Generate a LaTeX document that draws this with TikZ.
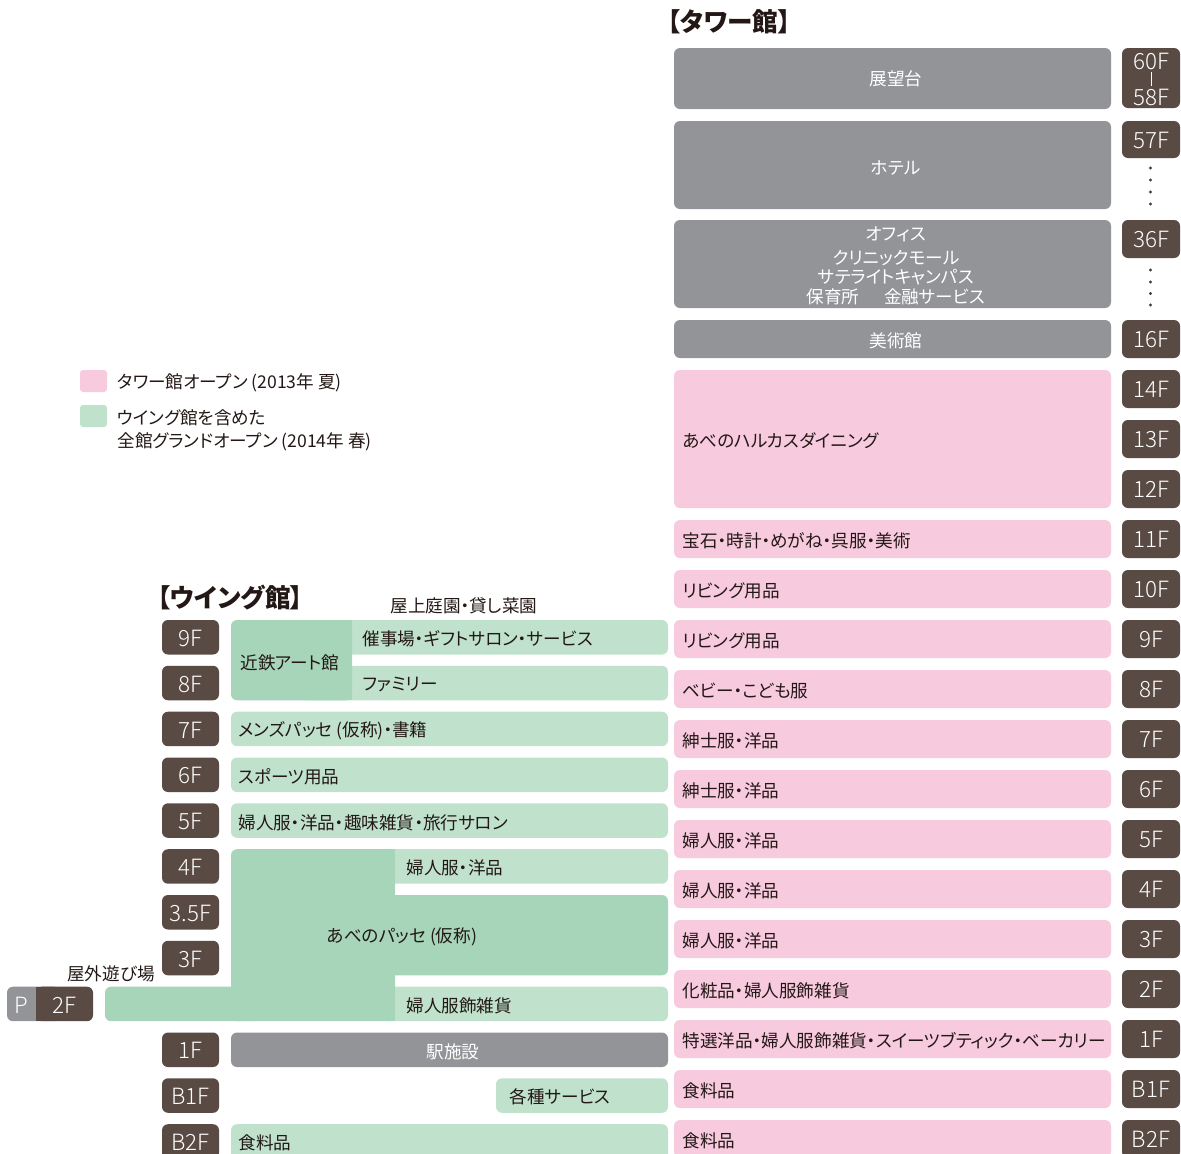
\documentclass[tikz,border=0pt]{standalone}
\usepackage{fontspec}
\setmainfont{Noto Sans CJK JP}[RawFeature=+palt]
\newfontfamily\flfont{Noto Sans CJK JP Light}
\definecolor{gbox}{RGB}{147,148,152}
\definecolor{brn}{RGB}{89,75,67}
\definecolor{pnk}{RGB}{247,202,222}
\definecolor{lgrn}{RGB}{192,226,204}
\definecolor{dgrn}{RGB}{167,213,185}
\definecolor{ink}{RGB}{35,24,21}
\tikzset{
  rc/.style={rounded corners=3pt},
  txt/.style={font=\fontsize{8.8}{10.5}\selectfont, text=ink, inner sep=0pt, yshift=-0.8pt},
  lt/.style={txt, anchor=west},
  wt/.style={font=\fontsize{8.8}{10.5}\selectfont, text=white, inner sep=0pt, yshift=-0.8pt},
  fl/.style={font=\flfont\fontsize{11.2}{12}\selectfont, text=white, inner sep=0pt, yshift=-0.4pt},
  ttl/.style={font=\fontsize{12.8}{14}\selectfont\bfseries, text=ink, inner sep=0pt, anchor=west},
}
\begin{document}
\begin{tikzpicture}[x=0.5pt,y=-0.5pt]
\useasboundingbox (0,0) rectangle (1181,1153);
\clip (0,0) rectangle (1181,1153);

% ===== Tower =====
\node[ttl] (ttitle) at (667,22) {【タワー館】};

\fill[gbox,rc] (674,48) rectangle (1111,109);
\node[wt] (obs) at (896,77) {展望台};
\fill[gbox,rc] (674,121) rectangle (1111,209);
\node[wt] (hotel) at (896,166) {ホテル};
\fill[gbox,rc] (674,220) rectangle (1111,308);
\node[wt] (off1) at (896,233) {オフィス};
\node[wt] (off2) at (896,256) {クリニックモール};
\node[wt] (off3) at (896,276) {サテライトキャンパス};
\node[wt] (off4) at (896,295) {保育所\hspace{1.4em}金融サービス};
\fill[gbox,rc] (674,320) rectangle (1111,358);
\node[wt] (art) at (896,339) {美術館};

\fill[brn,rc] (1122,48) rectangle (1180,108);
\node[fl] (l60) at (1151,61) {60F};
\node[fl] (l58) at (1151,97) {58F};
\draw[white,line width=0.5pt] (1151,72) -- (1151,86);
\fill[brn,rc] (1122,121) rectangle (1180,158);
\node[fl] (l57) at (1151,140) {57F};
\foreach \d in {168,180,192,204} \fill[ink!85] (1150.5,\d) circle[radius=0.8pt];
\fill[brn,rc] (1122,220) rectangle (1180,258);
\node[fl] (l36) at (1151,239) {36F};
\foreach \d in {270,282,293.5,305} \fill[ink!85] (1150.5,\d) circle[radius=0.8pt];
\fill[brn,rc] (1122,320) rectangle (1180,358);
\node[fl] (l16) at (1151,339) {16F};

\fill[pnk,rc] (674,370) rectangle (1111,508);
\node[lt] (dining) at (682,439) {あべのハルカスダイニング};
\foreach \y/\f in {370/14F,420/13F,470/12F}{
  \fill[brn,rc] (1122,\y) rectangle (1180,\y+38);
  \node[fl] (tl\f) at (1151,\y+19) {\f};
}
\foreach \y/\f/\t in {520/11F/宝石・時計・めがね・呉服・美術,
  570/10F/リビング用品, 620/9F/リビング用品, 670/8F/ベビー・こども服,
  720/7F/紳士服・洋品, 770/6F/紳士服・洋品, 820/5F/婦人服・洋品,
  870/4F/婦人服・洋品, 920/3F/婦人服・洋品, 970/2F/化粧品・婦人服飾雑貨,
  1020/1F/特選洋品・婦人服飾雑貨・スイーツブティック・ベーカリー,
  1070/B1F/食料品, 1120/B2F/食料品}{
  \fill[pnk,rc] (674,\y) rectangle (1111,\y+38);
  \node[lt] (tt\f) at (682,\y+19) {\t};
  \fill[brn,rc] (1122,\y) rectangle (1180,\y+38);
  \node[fl] (tl\f) at (1151,\y+19) {\f};
}

% ===== Legend =====
\fill[pnk,rounded corners=1.5pt] (80,370) rectangle (107,392);
\node[lt] (leg1) at (117,381) {タワー館オープン (2013年 夏)};
\fill[lgrn,rounded corners=1.5pt] (80,405) rectangle (107,427);
\node[lt] (leg2a) at (117,416) {ウイング館を含めた};
\node[lt] (leg2b) at (117,440) {全館グランドオープン (2014年 春)};

% ===== Wing =====
\node[ttl] (wtitle) at (157,598) {【ウイング館】};
\node[lt] (roof) at (390,604) {屋上庭園・貸し菜園};

\foreach \y/\f/\n in {620/9F/w9, 665.8/8F/w8, 711.7/7F/w7, 757.5/6F/w6,
  803.3/5F/w5, 849.2/4F/w4, 895/3.5F/w35, 940.8/3F/w3, 1032.5/1F/w1,
  1078.3/B1F/wb1, 1124.2/B2F/wb2}{
  \fill[brn,rc] (162,\y) rectangle (219,\y+34.5);
  \node[fl] (\n) at (190.5,\y+17.5) {\f};
}
% P / 2F
\fill[gbox,rc] (7,986.7) rectangle (60,1021.2);
\fill[brn,rc] (36,986.7) rectangle (93,1021.2);
\fill[brn] (36,986.7) rectangle (60,1021.2);
\node[fl] (wp) at (21.5,1004.5) {P};
\node[fl] (w2) at (64.5,1004.5) {2F};
\node[txt] (play) at (111,972) {屋外遊び場};

% 9F/8F
\fill[lgrn,rc] (300,620) rectangle (668,654.5);
\fill[lgrn,rc] (300,665.8) rectangle (668,700.3);
\fill[dgrn,rc] (231,620) rectangle (352,700.3);
\fill[dgrn] (320,620) rectangle (352,700.3);
\node[lt] (kintetsu) at (240,661) {近鉄アート館};
\node[lt] (event) at (362,637.5) {催事場・ギフトサロン・サービス};
\node[lt] (family) at (362,683) {ファミリー};
% 7F-5F
\fill[lgrn,rc] (231,711.7) rectangle (668,746.2);
\node[lt] (mens) at (238,729) {メンズパッセ (仮称)・書籍};
\fill[lgrn,rc] (231,757.5) rectangle (668,792);
\node[lt] (sports) at (238,775) {スポーツ用品};
\fill[lgrn,rc] (231,803.3) rectangle (668,837.8);
\node[lt] (w5t) at (238,821) {婦人服・洋品・趣味雑貨・旅行サロン};
% 4F-2F
\fill[lgrn,rc] (380,849.2) rectangle (668,883.7);
\fill[dgrn,rc] (380,895) rectangle (668,975.3);
\fill[lgrn,rc] (380,986.7) rectangle (668,1021.2);
\fill[dgrn,rc] (231,849.2) rectangle (395,1021.2);
\fill[dgrn,rc] (105,986.7) rectangle (260,1021.2);
\fill[dgrn] (370,849.2) rectangle (395,1021.2);
\node[lt] (w4t) at (406,866) {婦人服・洋品};
\node[txt] (passe) at (402,935) {あべのパッセ (仮称)};
\node[lt] (w2t) at (406,1004) {婦人服飾雑貨};
% 1F-B2F
\fill[gbox,rc] (231,1032.5) rectangle (668,1067);
\node[wt] (station) at (453,1050) {駅施設};
\fill[lgrn,rc] (496,1078.3) rectangle (668,1112.8);
\node[lt] (service) at (509,1095.5) {各種サービス};
\fill[lgrn,rc] (231,1124.2) rectangle (668,1175);
\node[lt] (food) at (238,1141) {食料品};
\end{tikzpicture}
\end{document}
